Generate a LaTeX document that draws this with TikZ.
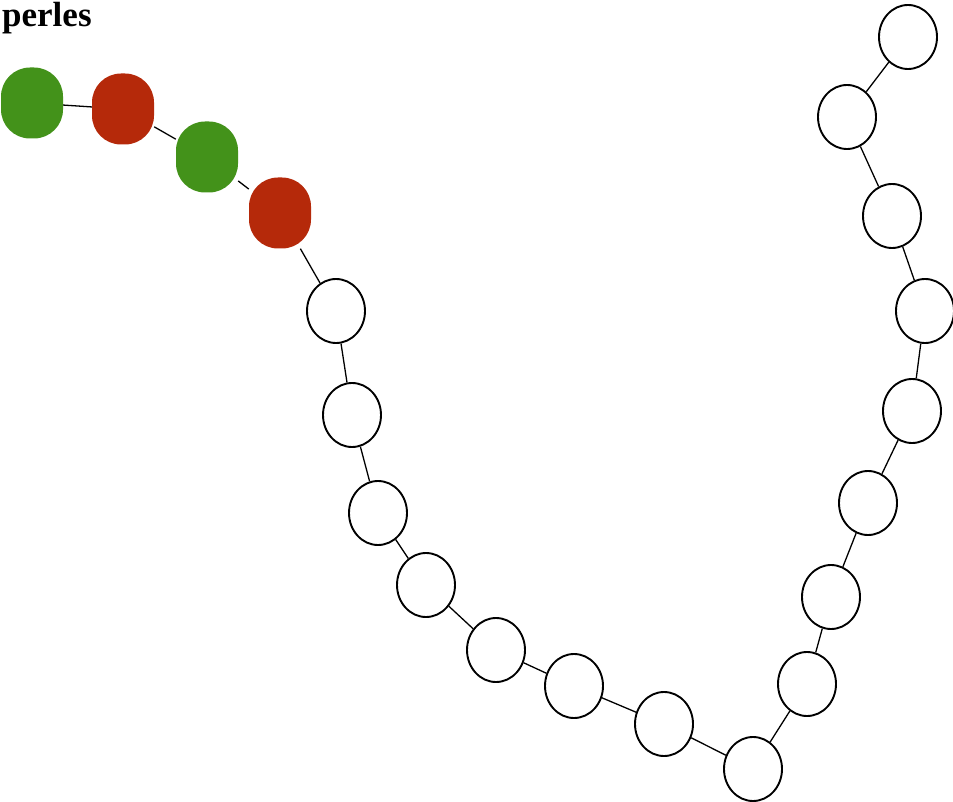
\documentclass[tikz,border=0pt]{standalone}
\usepackage{fontspec}
\setmainfont{Liberation Serif}
\usetikzlibrary{shapes.geometric}

\definecolor{perlevert}{RGB}{67,146,26}
\definecolor{perlerouge}{RGB}{181,41,10}

\tikzset{
  perle/.style={ellipse, draw=black, line width=1.9pt, fill=white, inner sep=0pt,
    minimum width=58pt, minimum height=64pt},
  perlecouleur/.style={rectangle, rounded corners=29pt, inner sep=0pt, minimum width=62pt, minimum height=71pt},
  fil/.style={line width=1.3pt}
}

\begin{document}
\begin{tikzpicture}[x=1pt, y=-1pt]
  \useasboundingbox (0, 0) rectangle (953, 802);

  % 标题
  \node[anchor=base west, font=\fontsize{35}{42}\selectfont\bfseries, inner sep=0pt] (titre) at (2, 27) {perles};

  % 彩色珠子
  \node[perlecouleur, fill=perlevert] (p1) at (32, 103) {};
  \node[perlecouleur, fill=perlerouge] (p2) at (123, 109) {};
  \node[perlecouleur, fill=perlevert] (p3) at (207, 157) {};
  \node[perlecouleur, fill=perlerouge] (p4) at (280, 213) {};

  % 白色珠子
  \node[perle] (p5) at (336, 311) {};
  \node[perle] (p6) at (352, 415) {};
  \node[perle] (p7) at (378, 513) {};
  \node[perle] (p8) at (426, 585) {};
  \node[perle] (p9) at (496, 650) {};
  \node[perle] (p10) at (574, 686) {};
  \node[perle] (p11) at (664, 724) {};
  \node[perle] (p12) at (753, 769) {};
  \node[perle] (p13) at (807, 684) {};
  \node[perle] (p14) at (831, 597) {};
  \node[perle] (p15) at (868, 503) {};
  \node[perle] (p16) at (912, 411) {};
  \node[perle] (p17) at (925, 311) {};
  \node[perle] (p18) at (892, 216) {};
  \node[perle] (p19) at (847, 117) {};
  \node[perle] (p20) at (908, 37) {};

  % 连线
  \draw[fil] (p1) -- (p2);
  \draw[fil] (p2) -- (p3);
  \draw[fil] (p3) -- (p4);
  \draw[fil] (p4) -- (p5);
  \draw[fil] (p5) -- (p6);
  \draw[fil] (p6) -- (p7);
  \draw[fil] (p7) -- (p8);
  \draw[fil] (p8) -- (p9);
  \draw[fil] (p9) -- (p10);
  \draw[fil] (p10) -- (p11);
  \draw[fil] (p11) -- (p12);
  \draw[fil] (p12) -- (p13);
  \draw[fil] (p13) -- (p14);
  \draw[fil] (p14) -- (p15);
  \draw[fil] (p15) -- (p16);
  \draw[fil] (p16) -- (p17);
  \draw[fil] (p17) -- (p18);
  \draw[fil] (p18) -- (p19);
  \draw[fil] (p19) -- (p20);
\end{tikzpicture}
\end{document}
